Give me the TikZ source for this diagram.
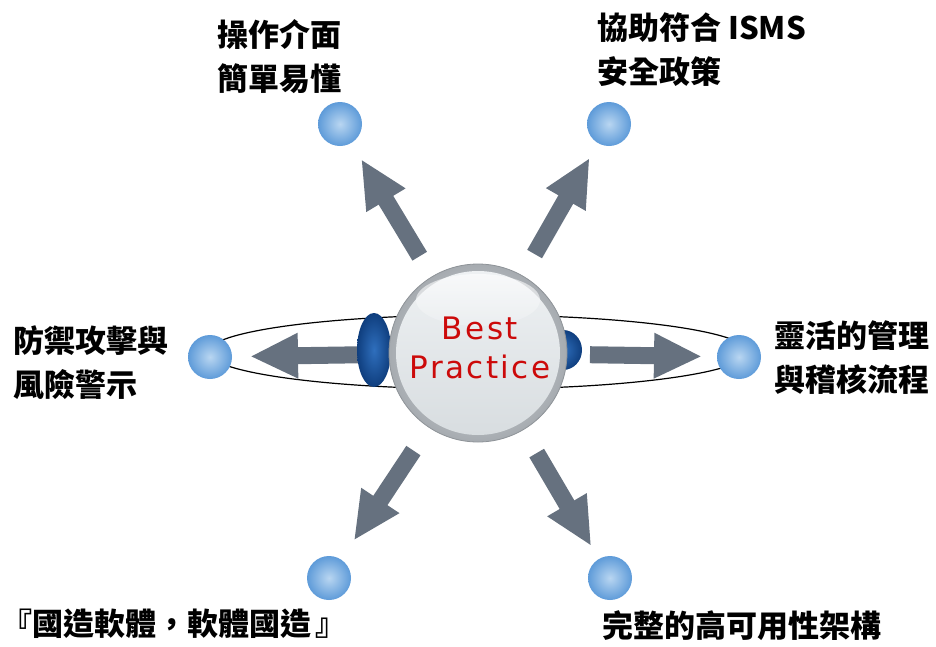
\documentclass[tikz,border=0pt]{standalone}
\usepackage{fontspec}
\newfontfamily\cjk{Noto Sans CJK TC}
\newfontfamily\bpfont{DejaVu Sans}[LetterSpace=8]
\usetikzlibrary{arrows.meta}
\definecolor{arrowgray}{HTML}{66717F}
\definecolor{dotin}{HTML}{B9D6F1}
\definecolor{dotout}{HTML}{5E9BD9}
\definecolor{lensin}{HTML}{2F6FBD}
\definecolor{lensout}{HTML}{0F3E7E}
\definecolor{rimline}{HTML}{8E9398}
\definecolor{rimdark}{HTML}{A6ABB0}
\definecolor{rimlight}{HTML}{E4E7E9}
\definecolor{facetop}{HTML}{EEF1F3}
\definecolor{facebot}{HTML}{D8DDE0}
\definecolor{bpred}{HTML}{CC0A0A}
\tikzset{
  bigarrow/.style={draw=arrowgray, line width=17pt,
    -{Triangle[length=48pt,width=42pt]}},
  dotball/.style={circle, minimum size=44pt, inner sep=0pt,
    inner color=dotin, outer color=dotout},
  label/.style={font=\cjk\bfseries\fontsize{31}{44}\selectfont,
    align=left, anchor=west, inner sep=0pt, text=black},
  bptext/.style={font=\bpfont\fontsize{31}{39}\selectfont, text=bpred,
    inner sep=0pt, anchor=base},
}
\begin{document}
\begin{tikzpicture}[x=1pt,y=-1pt]
\useasboundingbox (0,0) rectangle (936,646);

% positions of the hub and the six outer points
\coordinate (c) at (478,353);
\coordinate (pTL) at (340,124);
\coordinate (pTR) at (609,124);
\coordinate (pL) at (210,357);
\coordinate (pR) at (739,357);
\coordinate (pBL) at (329,578);
\coordinate (pBR) at (610,578);

% orbit ring
\draw[black, line width=1.2pt] (478,352) ellipse [x radius=270pt, y radius=37pt];

% block arrows from the hub outwards
\draw[bigarrow, shorten <=113pt, shorten >=41pt] (c) -- (pTL);
\draw[bigarrow, shorten <=114pt, shorten >=39pt] (c) -- (pTR);
\draw[bigarrow, shorten <=120pt, shorten >=40pt] (c) -- (pL);
\draw[bigarrow, shorten <=112pt, shorten >=37pt] (c) -- (pR);
\draw[bigarrow, shorten <=117pt, shorten >=45pt] (c) -- (pBL);
\draw[bigarrow, shorten <=116pt, shorten >=37pt] (c) -- (pBR);

% blue discs on the ring behind the sphere
\shade[inner color=lensin, outer color=lensout] (374,350) ellipse [x radius=17pt, y radius=37pt];
\shade[inner color=lensin, outer color=lensout] (563,350) ellipse [x radius=19pt, y radius=20pt];

% the glass sphere
\node[circle, minimum size=178pt, inner sep=0pt, draw=rimline, line width=0.8pt,
      inner color=rimlight, outer color=rimdark] (core) at (c) {};
\shade[top color=facetop, bottom color=facebot] (c) circle [radius=82pt];
\shade[top color=white, bottom color=facetop, opacity=0.6] (478,300) ellipse [x radius=62pt, y radius=26pt];
\node[bptext] (bp1) at (480,339) {Best};
\node[bptext] (bp2) at (480,378) {Practice};

% outer points
\node[dotball] (dTL) at (pTL) {};
\node[dotball] (dTR) at (pTR) {};
\node[dotball] (dL) at (pL) {};
\node[dotball] (dR) at (pR) {};
\node[dotball] (dBL) at (pBL) {};
\node[dotball] (dBR) at (pBR) {};

% captions
\node[label] (tTL) at (217,57) {操作介面\\簡單易懂};
\node[label] (tTR) at (597,50) {協助符合 ISMS\\安全政策};
\node[label] (tL) at (13,363) {防禦攻擊與\\風險警示};
\node[label] (tR) at (774,358) {靈活的管理\\與稽核流程};
\node[label] (tBL) at (1,624) {『國造軟體，軟體國造\kern4pt 』};
\node[label] (tBR) at (602,626) {完整的高可用性架構};
\end{tikzpicture}
\end{document}
